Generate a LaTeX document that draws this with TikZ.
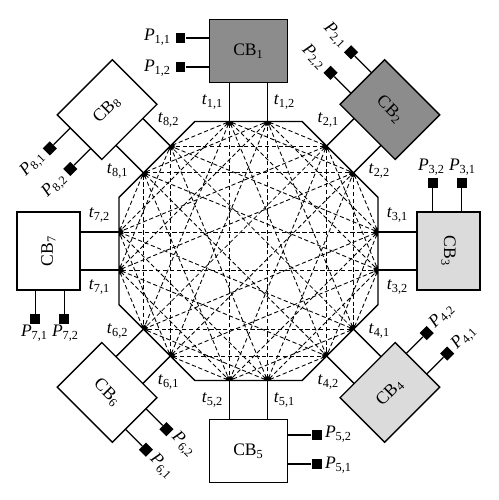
\documentclass[tikz,border=0pt]{standalone}
\usepackage{fontspec}
\setmainfont{Liberation Serif}
\usetikzlibrary{arrows.meta}
\definecolor{cbdark}{gray}{0.55}
\definecolor{cblight}{gray}{0.86}

\begin{document}
\begin{tikzpicture}[x=0.02cm, y=0.02cm,
        cbbox/.style={draw, line width=0.75pt, minimum width=1.56cm, minimum height=1.26cm, inner sep=0pt},
        port/.style={fill=black, minimum size=0.2cm, inner sep=0pt},
        wire/.style={line width=0.75pt},
        link/.style={line width=0.5pt, dash pattern=on 2.4pt off 1.5pt,
            {Stealth[length=2.6pt, width=2pt]}-{Stealth[length=2.6pt, width=2pt]}}]
        \useasboundingbox (-248.5,-249) rectangle (249.5,251);
        % octagon
        \draw[wire] (22.5:140.2) \foreach \a in {67.5,112.5,...,337.5} {-- (\a:140.2)} -- cycle;
        % blocks with their ports and terminals
        \foreach \k/\th/\r/\pr/\pd/\col in {1/90/0/0/91/cbdark, 2/45/-45/-45/91/cbdark,
                3/0/-90/0/84/cblight, 4/-45/45/45/91/cblight, 5/-90/0/0/90/white,
                6/-135/-45/-45/91/white, 7/180/90/0/82/white, 8/135/45/45/91/white}
        {
            \begin{scope}[rotate=\th-90]
                \node[cbbox, fill=\col, rotate=\r] (cb-\k) at (0,200) {};
                \node[rotate=\r, inner sep=1pt] (cbl-\k) at (cb-\k.center) {CB\textsubscript{\k}};
                \coordinate (t-\k-1) at (-19,129.5);
                \coordinate (t-\k-2) at (19,129.5);
                \coordinate (e-\k-1) at (-19,168.5);
                \coordinate (e-\k-2) at (19,168.5);
                \draw[wire] (t-\k-1) -- (e-\k-1);
                \draw[wire] (t-\k-2) -- (e-\k-2);
                \node[inner sep=1pt] (tl-\k-1) at (-36,149) {\textit{t}\textsubscript{\k,1}};
                \node[inner sep=1pt] (tl-\k-2) at (36,149) {\textit{t}\textsubscript{\k,2}};
                \node[port, rotate=\r] (p-\k-1) at (-68,213) {};
                \node[port, rotate=\r] (p-\k-2) at (-68,184) {};
                \coordinate (s-\k-1) at (-39,213);
                \coordinate (s-\k-2) at (-39,184);
                \draw[wire] (p-\k-1) -- (s-\k-1);
                \draw[wire] (p-\k-2) -- (s-\k-2);
                \node[rotate=\pr, inner sep=1pt] (pl-\k-1) at (-\pd,214) {\textit{P}\textsubscript{\k,1}};
                \node[rotate=\pr, inner sep=1pt] (pl-\k-2) at (-\pd,183) {\textit{P}\textsubscript{\k,2}};
            \end{scope}
        }
        % links: every first terminal to the second terminal of every other block
        \foreach \k in {1,...,8}
            \foreach \m in {1,...,8} {
                \ifnum\k=\m\else
                    \draw[link] (t-\k-1) -- (t-\m-2);
                \fi
            }
    \end{tikzpicture}
\end{document}
